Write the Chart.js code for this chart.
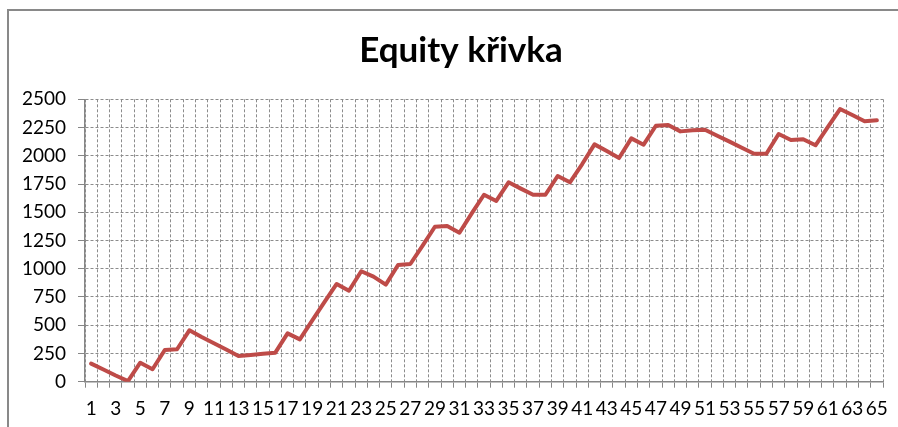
<!DOCTYPE html>
<html><head><meta charset="utf-8">
<script src="https://cdn.jsdelivr.net/npm/chart.js@4"></script>
<style>
html,body{margin:0;padding:0;background:#fff;overflow:hidden}
#wrap{position:relative;width:898px;height:427px;overflow:hidden}
#frame{position:absolute;left:7px;top:9px;width:900px;height:430px;border-top:2px solid #898989;border-left:2px solid #898989}
canvas{position:absolute;left:0;top:0}
</style></head><body>
<div id="wrap"><div id="frame"></div><canvas id="c" width="898" height="427"></canvas></div>
<script>
const categories = [1,2,3,4,5,6,7,8,9,10,11,12,13,14,15,16,17,18,19,20,21,22,23,24,25,26,27,28,29,30,31,32,33,34,35,36,37,38,39,40,41,42,43,44,45,46,47,48,49,50,51,52,53,54,55,56,57,58,59,60,61,62,63,64,65];
const equity = [160,108,55,5,168,110,281,287,455,395,
                340,285,227,237,247,257,428,375,540,705,
                865,805,978,930,859,1033,1042,1204,1372,1378,
                1319,1490,1655,1600,1765,1709,1655,1655,1821,1765,
                1927,2101,2042,1980,2154,2098,2266,2272,2216,2225,
                2231,2178,2125,2071,2018,2018,2193,2140,2146,2093,
                2254,2414,2361,2305,2314];
const yMin = 0, yMax = 2500, yStep = 250;
const titleText = 'Equity křivka';

const FONT = "Lato, 'Noto Sans', sans-serif";
Chart.defaults.font.family = FONT;

// Title centred on the (wider) original chart frame, as in the reference
const titleDrawer = {
  id: 'titleDrawer',
  afterDraw(chart) {
    const ctx = chart.ctx;
    ctx.save();
    ctx.font = "bold 35px " + FONT;
    ctx.fillStyle = '#000';
    ctx.textAlign = 'center';
    ctx.textBaseline = 'alphabetic';
    ctx.fillText(titleText, 461, 62);
    ctx.restore();
  }
};

new Chart(document.getElementById('c'), {
  type: 'line',
  data: {
    labels: categories,
    datasets: [{
      data: equity,
      borderColor: '#be4b48',
      borderWidth: 4,
      pointRadius: 0,
      tension: 0,
      fill: false,
      borderJoinStyle: 'round',
      borderCapStyle: 'round'
    }]
  },
  plugins: [titleDrawer],
  options: {
    responsive: false,
    animation: false,
    layout: { padding: { left: 0, right: 14.5, top: 99.3, bottom: 0 } },
    plugins: {
      legend: { display: false },
      tooltip: { enabled: false },
      title: { display: false }
    },
    scales: {
      x: {
        offset: true,
        grid: { offset: true, color: '#8c8c8c', lineWidth: 1, tickLength: 6, tickColor: '#868686' },
        border: { display: true, color: '#868686', width: 1.5, dash: [3, 2] },
        ticks: {
          autoSkip: false, maxRotation: 0, minRotation: 0, padding: 10,
          color: '#000', font: { size: 19 },
          callback: function (v, i) { return i % 2 === 0 ? String(this.getLabelForValue(v)) : ''; }
        },
        afterFit: s => { s.height = 45.3; }
      },
      y: {
        min: yMin, max: yMax,
        ticks: { stepSize: yStep, padding: 12, color: '#000', font: { size: 19 }, callback: v => String(v) },
        grid: { color: '#8c8c8c', lineWidth: 1, tickLength: 7, tickColor: '#868686' },
        border: { display: true, color: '#868686', width: 1.5, dash: [3, 2] },
        afterFit: s => { s.width = 85; }
      }
    }
  }
});
</script>
</body></html>
